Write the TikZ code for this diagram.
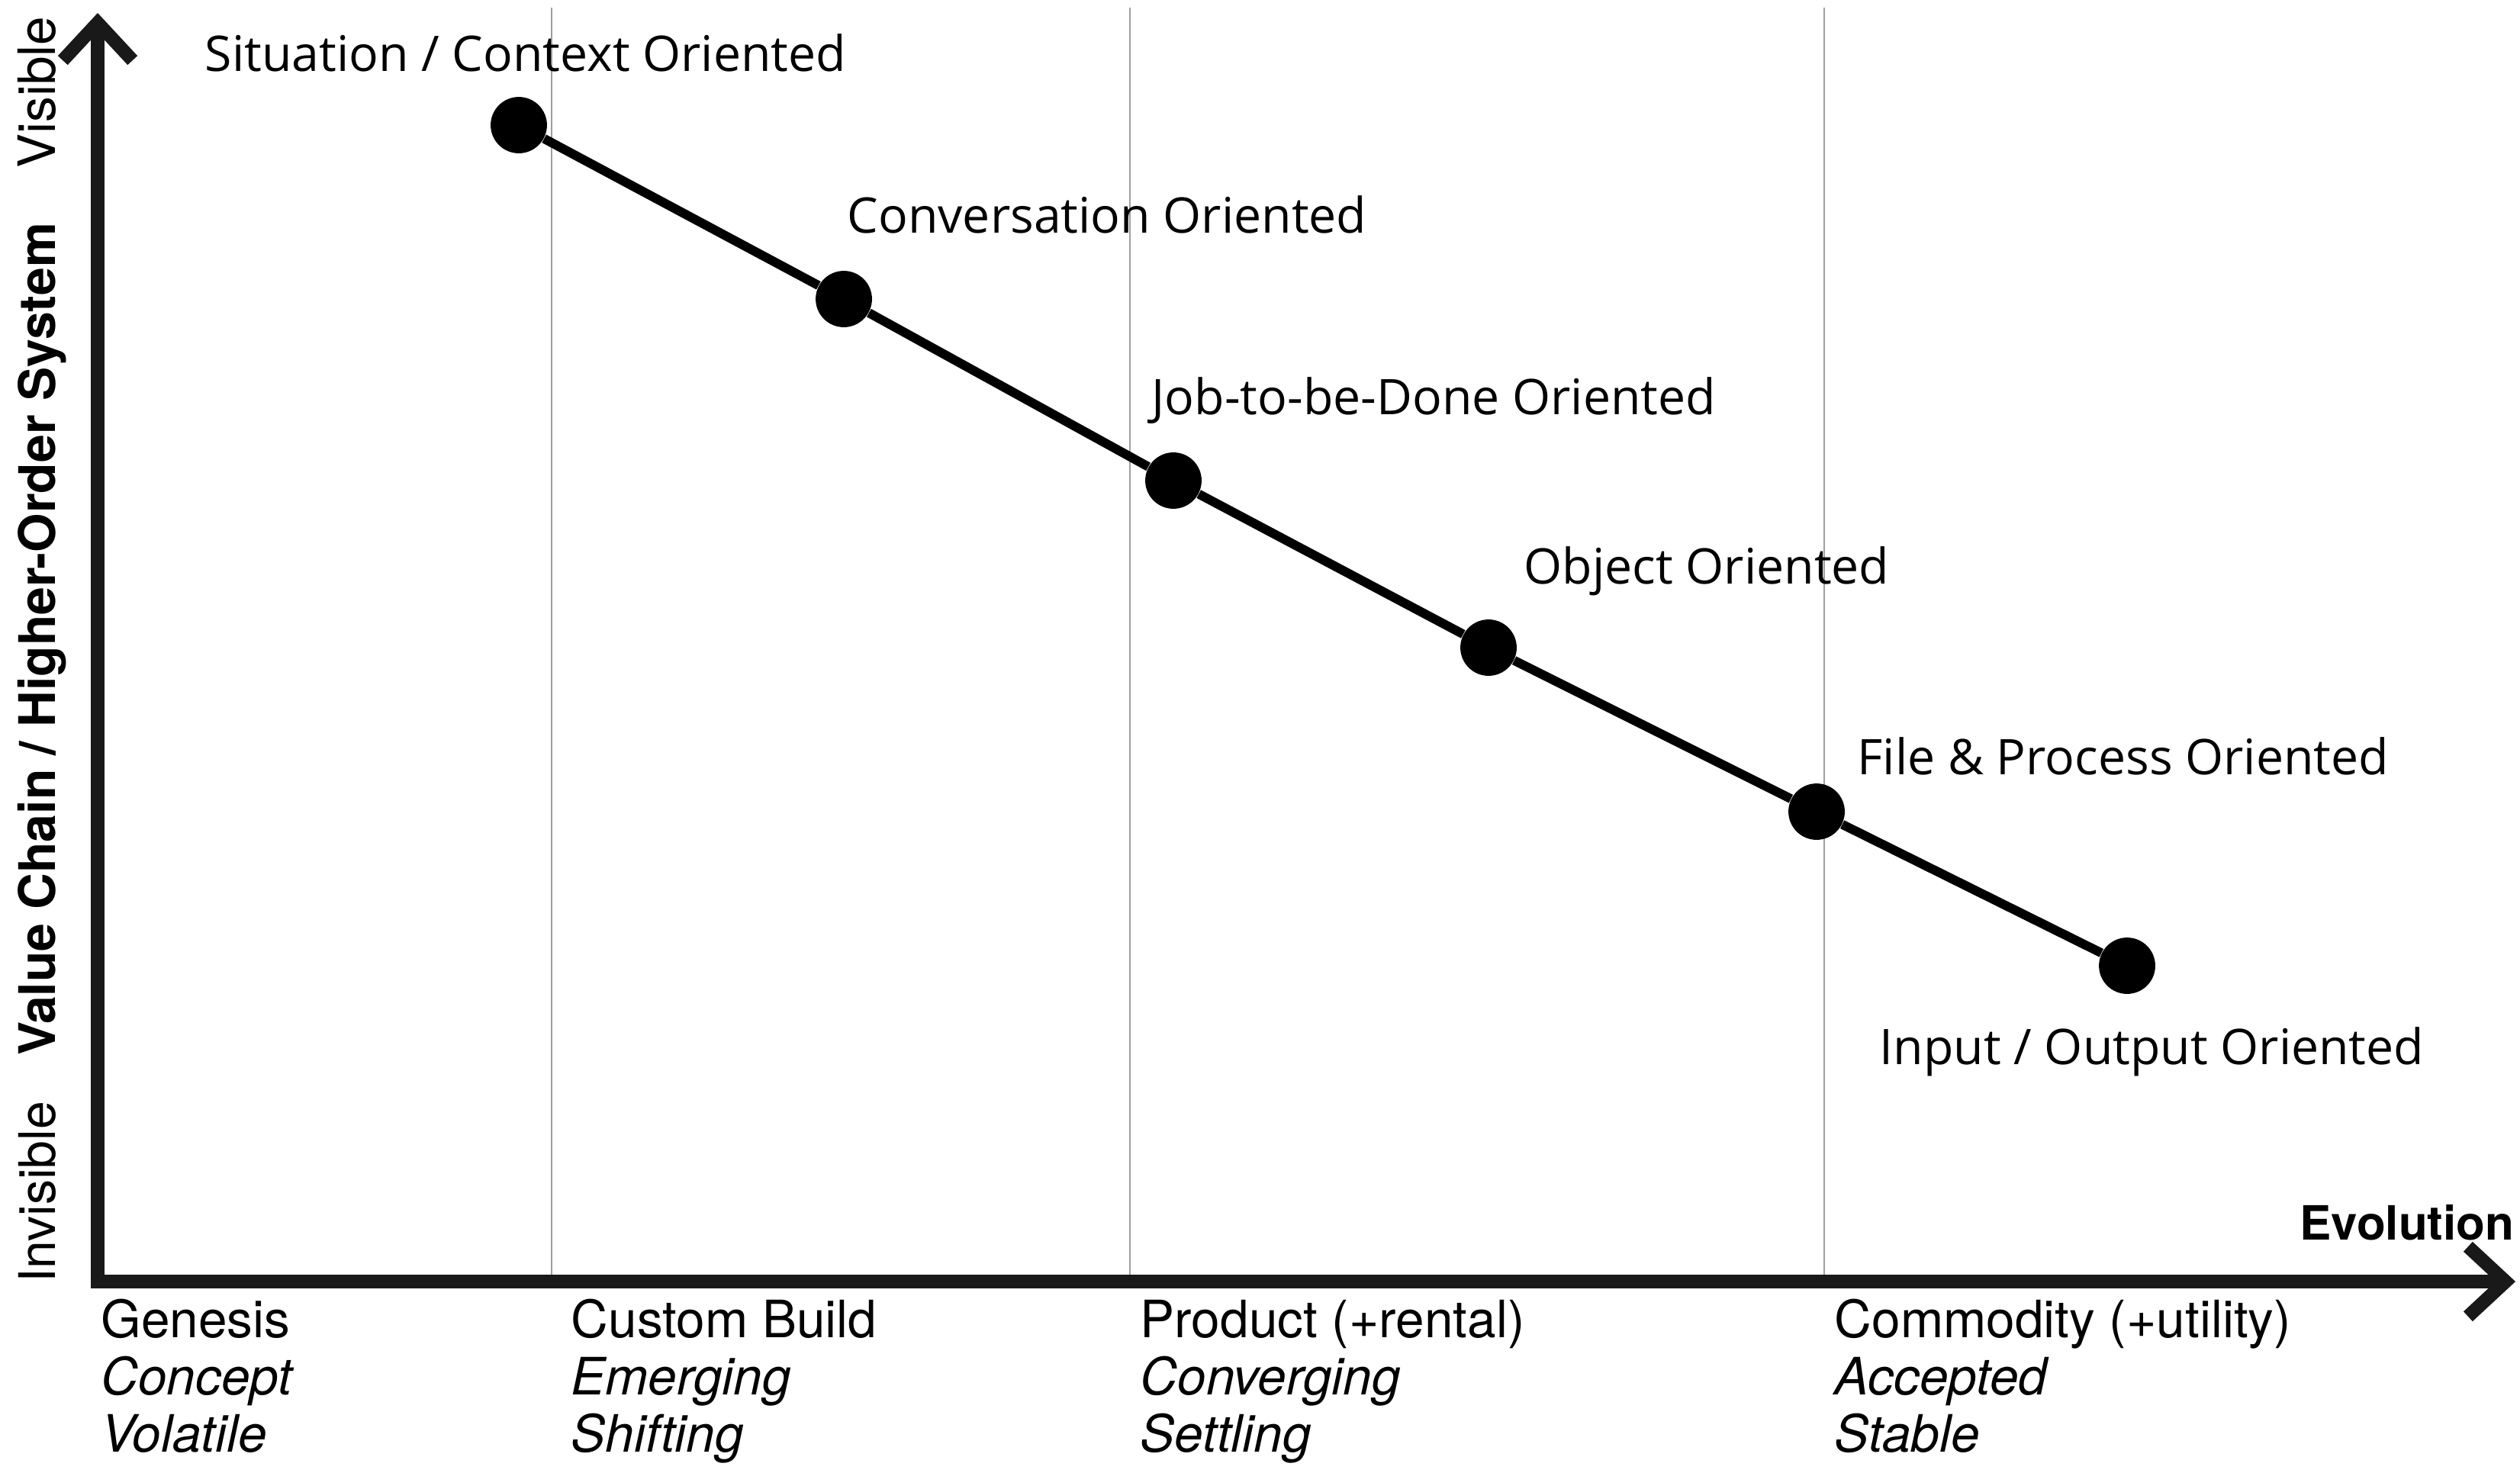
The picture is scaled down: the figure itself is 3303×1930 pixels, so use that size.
\documentclass[tikz,border=0pt]{standalone}
\usepackage{fontspec}
\setmainfont{TeX Gyre Heros}
\newfontfamily\labelfont{Open Sans}
\usetikzlibrary{arrows.meta,positioning}

\tikzset{
    stage/.style={gray!75, line width=0.6pt},
    axis/.style={line width=5pt, black!90, line join=miter,
        {Straight Barb[length=14pt,width=26pt]}-{Straight Barb[length=14pt,width=26pt]}},
    dot/.style={circle, fill=black, minimum size=21pt, inner sep=0pt},
    link/.style={line width=3.4pt, black},
    tag/.style={font=\labelfont\fontsize{18.3}{22}\selectfont, anchor=base west, inner sep=0pt},
    phase/.style={font=\fontsize{19.2}{22}\selectfont, anchor=base west, inner sep=0pt},
}

\begin{document}
\begin{tikzpicture}[x=0.01cm, y=-0.01cm]

    \useasboundingbox (0,0) rectangle (3303,1930);

    % Draw stage lines.
    \foreach \x in {723,1481,2391}
        \draw[stage] (\x,10) -- (\x,1672);

    % Draw axes.
    \coordinate (ytip) at (128,17);
    \coordinate (origin) at (128,1680);
    \coordinate (xtip) at (3297,1680);
    \draw[axis] (ytip) -- (origin) -- (xtip);

    % Axis labels.
    \node[phase, rotate=90, anchor=base] (visible) at (72,121) {Visible};
    \node[phase, rotate=90, anchor=base, font=\fontsize{18.8}{22}\selectfont] (chain) at (72,838) {\bfseries Value Chain / Higher-Order System};
    \node[phase, rotate=90, anchor=base, font=\fontsize{18.8}{22}\selectfont] (invisible) at (72,1563) {Invisible};
    \node[phase, font=\bfseries\fontsize{17.6}{22}\selectfont, anchor=base east] (evolution) at (3296,1625) {Evolution};

    % Stages of evolution.
    \foreach \n/\x/\a/\b/\c in {gen/132/Genesis/Concept/Volatile,
                                cus/748/Custom Build/Emerging/Shifting,
                                pro/1494/Product (+rental)/Converging/Settling,
                                com/2404/Commodity (+utility)/Accepted/Stable}
    {
        \node[phase] (\n-name) at (\x,1753) {\a};
        \node[phase] (\n-char) at (\x,1828) {\itshape \b};
        \node[phase] (\n-prop) at (\x,1903) {\itshape \c};
    }

    % Orientation points.
    \foreach \n/\x/\y in {1/680/164, 2/1106/392, 3/1538/630, 4/1951/849, 5/2381/1064, 6/2788/1266}
        \node[dot] (p\n) at (\x,\y) {};
    \draw[link] (p1) -- (p2) -- (p3) -- (p4) -- (p5) -- (p6);

    % Point labels.
    \node[tag] (situation) at (268,93) {Situation / Context Oriented};
    \node[tag] (conversation) at (1110,305) {Conversation Oriented};
    \node[tag] (job) at (1509,543) {Job-to-be-Done Oriented};
    \node[tag] (object) at (1997,765) {Object Oriented};
    \node[tag] (file) at (2434,1015) {File \& Process Oriented};
    \node[tag] (io) at (2463,1395) {Input / Output Oriented};

\end{tikzpicture}
\end{document}
